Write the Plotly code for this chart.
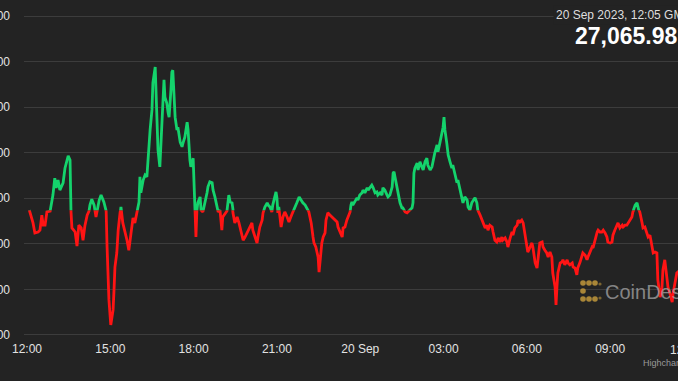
import plotly.graph_objects as go
from datetime import datetime, timedelta

# ---------------- data ----------------
start = datetime(2023, 9, 19, 12, 0)   # 19 Sep 2023, 12:00 GMT

minutes = [
    5, 13, 17, 24, 28, 32, 35, 39, 43, 50, 56, 60, 63, 67, 71, 78, 82, 89, 93, 95,
    97, 104, 108, 112, 117, 121, 125, 130, 134, 136, 140, 145, 149, 156, 160, 166, 171,
    173, 175, 177, 181, 186, 188, 190, 194, 197, 201, 203, 207, 212, 216, 220, 225, 229,
    233, 238, 242, 244, 246, 251, 255, 259, 261, 266, 270, 272, 277, 279, 281, 283, 287,
    290, 294, 296, 298, 302, 305, 307, 311, 313, 315, 318, 320, 324, 326, 331, 335, 337,
    341, 346, 348, 352, 354, 359, 361, 363,
    365, 367, 369, 374, 376, 380, 385, 389, 391, 395, 400, 402, 406, 411, 413, 417, 421,
    423, 428, 432, 436, 439, 443, 445, 449, 454, 458, 462, 467, 471, 475, 482, 486, 488,
    493, 497, 499, 503, 508, 510, 514, 519, 521, 525, 529, 531, 536, 538, 540, 542, 544,
    547, 549, 553, 557, 562, 566, 570, 575, 579, 583, 588, 592, 596, 601, 605, 609,
    614, 618, 620, 624, 629, 631, 633, 637, 640, 644, 646, 650, 655, 659, 661, 665, 670,
    672, 676, 681, 683, 687, 691, 694, 698, 700, 702, 704, 709, 713, 715, 719, 724, 726,
    730, 735, 737, 741, 745, 748, 752, 756, 758, 763, 767, 769, 773, 778, 780, 784, 789,
    791, 793, 795, 799, 802, 806, 810, 812, 817, 821, 823, 828,
    832, 834, 836, 838, 843, 845, 849, 853, 856, 860, 864, 866, 871, 875, 877, 881, 886,
    888, 892, 897, 899, 901, 903, 907, 910, 914, 918, 920, 925, 929, 931, 936, 940, 942,
    946, 951, 953, 957, 961, 964, 968, 972, 974, 979, 983, 985, 990, 994, 996, 1000, 1005,
    1007, 1011, 1015, 1018, 1022, 1026, 1028, 1033, 1037, 1039,
    1044, 1048, 1050, 1054, 1059, 1061, 1065, 1069, 1072, 1076, 1080, 1082, 1087, 1091,
    1093, 1098, 1102, 1104, 1108, 1113, 1115, 1119, 1123, 1126, 1130, 1134, 1136, 1141,
    1143, 1145, 1147, 1152, 1156, 1158, 1162, 1167, 1169, 1173, 1178, 1180, 1184, 1188,
    1190, 1195, 1199, 1201, 1206, 1210, 1212, 1216, 1221, 1223, 1227, 1232, 1234, 1238,
    1242, 1245, 1249, 1253, 1255, 1260, 1264, 1266, 1270, 1275, 1277, 1281, 1286, 1288,
    1292, 1296, 1299, 1303, 1307, 1309, 1314, 1318, 1320, 1324, 1329, 1331, 1335, 1340,
    1342, 1346, 1350, 1353, 1357, 1361, 1363, 1368, 1372, 1374, 1378, 1383, 1385, 1389,
    1394, 1396, 1400, 1404, 1419, 1432, 1445,
]

prices = [
    27174, 27146, 27124, 27126, 27130, 27163, 27141, 27141, 27170, 27172, 27207, 27244, 27223, 27240, 27218, 27234, 27266, 27293, 27284, 27172,
    27135, 27126, 27095, 27141, 27135, 27108, 27139, 27163, 27172, 27185, 27198, 27185, 27159, 27196, 27207, 27192, 27172,
    27093, 27014, 26977, 26922, 26955, 26999, 27049, 27080, 27130, 27168, 27181, 27146, 27126, 27108, 27086, 27130, 27157,
    27146, 27174, 27192, 27247, 27212, 27240, 27251, 27247, 27284, 27350, 27394, 27453, 27488, 27416, 27334, 27306, 27269,
    27343, 27444, 27460, 27422, 27409, 27387, 27378, 27438, 27477, 27481, 27431, 27378, 27350, 27356, 27323, 27313, 27321,
    27334, 27367, 27350, 27284, 27269, 27288, 27234, 27174,
    27115, 27172, 27190, 27203, 27174, 27170, 27190, 27212, 27225, 27236, 27234, 27218, 27203, 27181, 27170, 27174, 27130,
    27159, 27168, 27172, 27207, 27192, 27190, 27168, 27146, 27159, 27146, 27130, 27108, 27115, 27124, 27137, 27146, 27130,
    27115, 27102, 27115, 27137, 27152, 27168, 27181, 27190, 27185, 27181, 27170, 27185, 27207, 27214, 27201, 27168, 27181,
    27152, 27137, 27159, 27170, 27159, 27148, 27159, 27170, 27179, 27190, 27203, 27196, 27190, 27185, 27179, 27170,
    27146, 27115, 27102, 27093, 27071, 27038, 27065, 27102, 27115, 27124, 27152, 27168, 27163, 27159, 27157, 27152, 27148,
    27137, 27126, 27115, 27135, 27137, 27152, 27159, 27170, 27185, 27192, 27185, 27196, 27201, 27196, 27207, 27212, 27218,
    27212, 27223, 27218, 27225, 27229, 27223, 27212, 27214, 27207, 27212, 27207, 27223, 27218, 27207, 27203, 27207, 27225,
    27255, 27258, 27247, 27225, 27207, 27190, 27179, 27179, 27170, 27168, 27170, 27174,
    27179, 27190, 27255, 27266, 27277, 27262, 27280, 27269, 27262, 27280, 27288, 27273, 27262, 27269, 27280, 27299, 27317,
    27302, 27321, 27343, 27356, 27378, 27350, 27321, 27295, 27280, 27266, 27273, 27247, 27234, 27240, 27218, 27196, 27190,
    27203, 27196, 27181, 27174, 27190, 27196, 27201, 27190, 27174, 27163, 27152, 27146, 27135, 27141, 27130, 27141, 27137,
    27126, 27108, 27104, 27113, 27104, 27115, 27108, 27113, 27104, 27093,
    27113, 27126, 27119, 27135, 27141, 27152, 27148, 27152, 27146, 27124, 27102, 27082, 27093, 27102,
    27093, 27058, 27047, 27071, 27102, 27104, 27093, 27086, 27080, 27071, 27082, 27071, 27036, 27005,
    26966, 27005, 27036, 27058, 27060, 27065, 27054, 27065, 27058, 27054, 27058, 27049, 27047, 27032,
    27047, 27060, 27071, 27080, 27075, 27065, 27071, 27082, 27093, 27091, 27108, 27126, 27130, 27126,
    27126, 27130, 27124, 27115, 27104, 27102, 27104, 27119, 27130, 27141, 27146, 27135, 27141, 27137,
    27141, 27141, 27146, 27152, 27159, 27170, 27185, 27190, 27181, 27170, 27146, 27135, 27137, 27124,
    27115, 27119, 27093, 27080, 27082, 27080, 27021, 26983, 27005, 27043, 27065, 27027, 27005, 26992,
    26972, 26992, 27016, 27036, 27050, 27060, 27065.98,
]

assert len(minutes) == len(prices), (len(minutes), len(prices))

tick_times = ["2023-09-19 12:00", "2023-09-19 15:00", "2023-09-19 18:00", "2023-09-19 21:00",
              "2023-09-20 00:00", "2023-09-20 03:00", "2023-09-20 06:00", "2023-09-20 09:00"]
tick_text = ["12:00", "15:00", "18:00", "21:00", "20 Sep", "03:00", "06:00", "09:00"]
price_ticks = [26900, 27000, 27100, 27200, 27300, 27400, 27500, 27600]

header_date = "20 Sep 2023, 12:05 GMT"
header_price = "27,065.98"

# ---------------- styling ----------------
BG = "#232323"
GRID = "#3c3c3c"
GREEN = "#14d36c"
RED = "#ff1414"
LABEL = "#e2e2e2"
FONT = "Liberation Sans, Arial, Helvetica, sans-serif"

times = [start + timedelta(minutes=m) for m in minutes]
threshold = prices[0]           # opening price splits the green / red zones

y_lo, y_hi = 26895.6, 27604.4
split = (threshold - y_lo) / (y_hi - y_lo)

W, H = 678, 381
ML, MR, MT, MB = 24, 0, 14, 44
PW, PH = W - ML - MR, H - MT - MB


def px(xp):
    return (xp - ML) / PW


def py(yp):
    return (H - MB - yp) / PH


fig = go.Figure()
fig.add_trace(go.Scatter(x=times, y=prices, xaxis="x", yaxis="y", mode="lines",
                         line=dict(color=RED, width=2.8), hoverinfo="skip"))
fig.add_trace(go.Scatter(x=times, y=prices, xaxis="x2", yaxis="y2", mode="lines",
                         line=dict(color=GREEN, width=2.8), hoverinfo="skip"))

yaxis_common = dict(tickvals=price_ticks, tickformat=",.0f", showgrid=True, gridcolor=GRID,
                    gridwidth=1, zeroline=False, showline=False, ticks="",
                    ticklabelstandoff=13, automargin=False, fixedrange=True,
                    tickfont=dict(family=FONT, size=12, color=LABEL))

fig.update_layout(
    width=W, height=H,
    margin=dict(l=ML, r=MR, t=MT, b=MB, autoexpand=False),
    paper_bgcolor=BG, plot_bgcolor=BG,
    showlegend=False,
    template="none",
    font=dict(family=FONT, color=LABEL, size=12),
    xaxis=dict(anchor="y", domain=[0, 1],
               range=["2023-09-19 11:53:30", "2023-09-20 11:26:35"],
               tickvals=tick_times, ticktext=tick_text,
               showgrid=False, zeroline=False, showline=False, ticks="",
               ticklabelstandoff=3, automargin=False,
               tickfont=dict(family=FONT, size=12, color=LABEL)),
    xaxis2=dict(anchor="y2", matches="x", visible=False, showgrid=False),
    yaxis=dict(domain=[0, split], range=[y_lo, threshold], **yaxis_common),
    yaxis2=dict(domain=[split, 1], range=[threshold, y_hi], **yaxis_common),
)

annotations = [
    dict(text=header_date, xref="paper", yref="paper", x=px(553), y=py(15),
         xanchor="left", yanchor="middle", showarrow=False, bgcolor=BG, borderpad=2,
         font=dict(family=FONT, size=12, color="#dedede")),
    dict(text="<b>" + header_price + "</b>", xref="paper", yref="paper", x=px(573), y=py(36),
         xanchor="left", yanchor="middle", showarrow=False,
         font=dict(family=FONT, size=23, color="#ffffff")),
    dict(text="12:00", xref="paper", yref="paper", x=px(668), y=py(350),
         xanchor="left", yanchor="middle", showarrow=False,
         font=dict(family=FONT, size=12, color=LABEL)),
    dict(text="Highcharts.com", xref="paper", yref="paper", x=px(641), y=py(363),
         xanchor="left", yanchor="middle", showarrow=False,
         font=dict(family=FONT, size=9, color="#9a9a9a")),
    dict(text="CoinDesk", xref="paper", yref="paper", x=px(603), y=py(292),
         xanchor="left", yanchor="middle", showarrow=False,
         font=dict(family=FONT, size=20, color="rgba(160,160,160,0.8)")),
]
fig.update_layout(annotations=annotations)

# CoinDesk logo mark (gold dotted bracket)
logo_dots = [(583, 283), (589, 283), (595, 283), (583, 291), (583, 299), (589, 299), (595, 299)]
dim_dots = [(600, 284), (600, 298)]
shapes = []
for (dx, dy) in logo_dots:
    shapes.append(dict(type="circle", xref="paper", yref="paper", xsizemode="pixel", ysizemode="pixel",
                       xanchor=px(dx), yanchor=py(dy), x0=-2.8, x1=2.8, y0=-2.8, y1=2.8,
                       fillcolor="rgba(184,145,58,0.9)", line=dict(width=0)))
for (dx, dy) in dim_dots:
    shapes.append(dict(type="circle", xref="paper", yref="paper", xsizemode="pixel", ysizemode="pixel",
                       xanchor=px(dx), yanchor=py(dy), x0=-1.6, x1=1.6, y0=-1.6, y1=1.6,
                       fillcolor="rgba(184,145,58,0.6)", line=dict(width=0)))
fig.update_layout(shapes=shapes)

fig.write_html("out.html", config={"displayModeBar": False},
               post_script="document.body.style.margin='0';document.body.style.background='#232323';")
